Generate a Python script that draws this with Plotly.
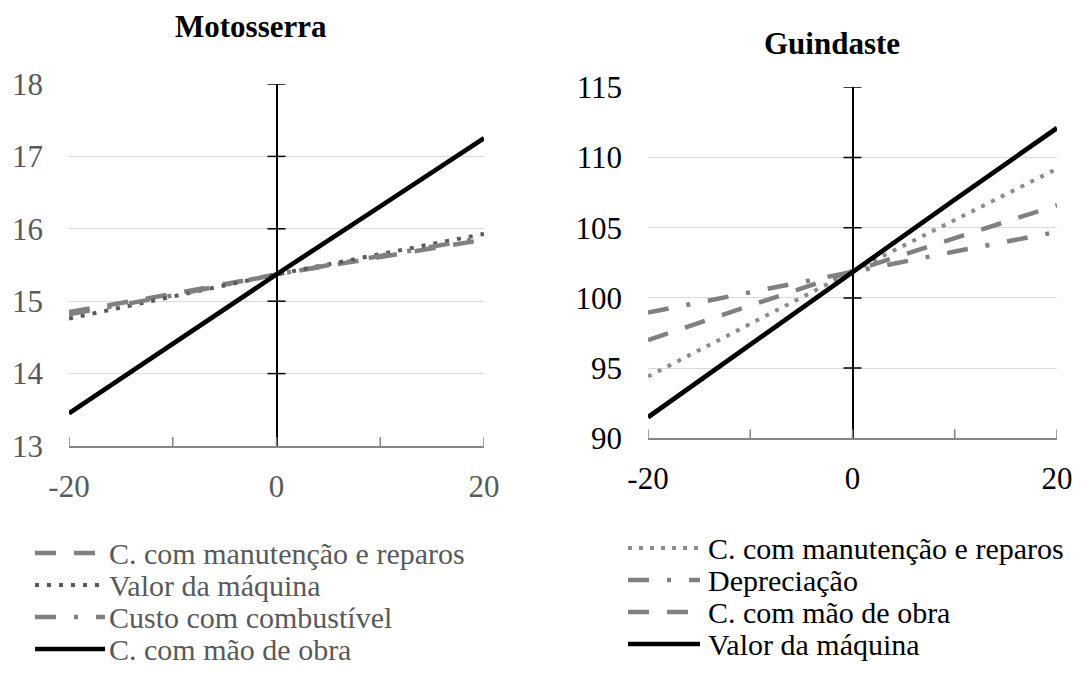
import plotly.graph_objects as go

# ---------------- data ----------------
x_vals = [-20, -10, 0, 10, 20]

# Motosserra
moto_title = "Motosserra"
moto_names = ["C. com manutenção e reparos", "Valor da máquina",
              "Custo com combustível", "C. com mão de obra"]
moto_manut = [14.85, 15.10, 15.37, 15.61, 15.85]
moto_valor = [14.76, 15.06, 15.37, 15.65, 15.93]
moto_comb = [14.82, 15.08, 15.37, 15.63, 15.88]
moto_mao = [13.45, 14.41, 15.37, 16.31, 17.25]
moto_yticks = [13, 14, 15, 16, 17, 18]

# Guindaste
guin_title = "Guindaste"
guin_names = ["C. com manutenção e reparos", "Depreciação",
              "C. com mão de obra", "Valor da máquina"]
guin_manut = [94.4, 98.15, 101.9, 105.55, 109.2]
guin_depr = [98.95, 100.4, 101.9, 103.3, 104.7]
guin_mao = [97.0, 99.45, 101.9, 104.25, 106.6]
guin_valor = [91.5, 96.7, 101.9, 107.0, 112.1]
guin_yticks = [90, 95, 100, 105, 110, 115]

x_ticklabels = [-20, 0, 20]
x_ticktext = ["-20", "0", "20"]
x_tickmarks = [-20, -10, 0, 10, 20]

# ---------------- layout helpers ----------------
W, H = 1086, 680
FONT = "Liberation Serif"


def px(x):
    return x / W


def py(y):
    return 1 - y / H


DARK = "#595959"
GRAY = "#808080"
LGRAY = "#8c8c8c"

moto_styles = [
    dict(color=GRAY, width=4.5, dash="21px,18px"),
    dict(color=DARK, width=4, dash="4px,8px"),
    dict(color=GRAY, width=4.5, dash="21px,18px,4px,18px"),
    dict(color="black", width=4.7, dash="solid"),
]
guin_styles = [
    dict(color=LGRAY, width=4, dash="4px,7px"),
    dict(color=GRAY, width=4.5, dash="21px,18px,4px,18px"),
    dict(color=GRAY, width=4.5, dash="21px,18px"),
    dict(color="black", width=4.7, dash="solid"),
]

fig = go.Figure()

for name, ys, st in zip(moto_names, [moto_manut, moto_valor, moto_comb, moto_mao], moto_styles):
    fig.add_trace(go.Scatter(x=x_vals, y=ys, mode="lines", name=name, line=st,
                             showlegend=False, xaxis="x", yaxis="y"))
for name, ys, st in zip(guin_names, [guin_manut, guin_depr, guin_mao, guin_valor], guin_styles):
    fig.add_trace(go.Scatter(x=x_vals, y=ys, mode="lines", name=name, line=st,
                             showlegend=False, xaxis="x2", yaxis="y2"))

# plot area pixel boxes
L_box = dict(x0=69, x1=484, y0=84, y1=446)
R_box = dict(x0=648, x1=1057, y0=87.3, y1=438.3)


def xaxis_cfg(box, color, anchor):
    return dict(domain=[px(box["x0"]), px(box["x1"])], range=[-20, 20], anchor=anchor,
                automargin=False,
                showgrid=False, zeroline=True, zerolinecolor="black", zerolinewidth=1.5,
                showline=True, linecolor="#868686", linewidth=1.5,
                ticks="", tickvals=x_ticklabels, ticktext=x_ticktext, ticklabelstandoff=12,
                tickfont=dict(family=FONT, size=31, color=color), fixedrange=True)


def yaxis_cfg(box, rng, ticks, color, anchor):
    return dict(domain=[py(box["y1"]), py(box["y0"])], range=rng, anchor=anchor,
                automargin=False,
                tickvals=ticks, showgrid=True, gridcolor="#d9d9d9", gridwidth=1.3,
                zeroline=False, showline=False, ticks="", ticklabelstandoff=25,
                tickfont=dict(family=FONT, size=31, color=color), fixedrange=True)


fig.update_layout(
    width=W, height=H, margin=dict(l=0, r=0, t=0, b=0, autoexpand=False),
    paper_bgcolor="white", plot_bgcolor="white",
    showlegend=False,
    xaxis=xaxis_cfg(L_box, DARK, "y"),
    yaxis=yaxis_cfg(L_box, [moto_yticks[0], moto_yticks[-1]], moto_yticks, DARK, "x"),
    xaxis2=xaxis_cfg(R_box, "black", "y2"),
    yaxis2=yaxis_cfg(R_box, [guin_yticks[0], guin_yticks[-1]], guin_yticks, "black", "x2"),
)

shapes = []
# tick crosses on the vertical axis at x=0 and on the horizontal axis
for xr, yr, ticks in [("x", "y", moto_yticks), ("x2", "y2", guin_yticks)]:
    for v in ticks[1:]:
        shapes.append(dict(type="line", xref=xr, yref=yr, xsizemode="pixel", xanchor=0,
                           x0=-9, x1=9, y0=v, y1=v, line=dict(color="black", width=1.5)))
    for v in x_tickmarks:
        shapes.append(dict(type="line", xref=xr, yref=yr, ysizemode="pixel", yanchor=ticks[0],
                           y0=-9, y1=9, x0=v, x1=v, line=dict(color="#868686", width=1.5)))

annotations = []
# titles
annotations.append(dict(text="<b>" + moto_title + "</b>", x=px(251), y=py(27), xref="paper",
                        yref="paper", showarrow=False, xanchor="center", yanchor="middle",
                        font=dict(family=FONT, size=31, color="black")))
annotations.append(dict(text="<b>" + guin_title + "</b>", x=px(832), y=py(44), xref="paper",
                        yref="paper", showarrow=False, xanchor="center", yanchor="middle",
                        font=dict(family=FONT, size=31, color="black")))

# manual legends
legends = [
    (moto_names, moto_styles, 35, 105, 107, [553, 585, 617, 649], DARK),
    (guin_names, guin_styles, 628, 700, 706, [548, 580, 612, 644], "black"),
]
for names, styles, sx0, sx1, tx, rows, tcolor in legends:
    for name, st, ry in zip(names, styles, rows):
        shapes.append(dict(type="line", xref="paper", yref="paper", x0=px(sx0), x1=px(sx1),
                           y0=py(ry), y1=py(ry), line=st))
        annotations.append(dict(text=name, x=px(tx), y=py(ry), xref="paper", yref="paper",
                                showarrow=False, xanchor="left", yanchor="middle",
                                font=dict(family=FONT, size=30, color=tcolor)))

fig.update_layout(shapes=shapes, annotations=annotations)

fig.write_html("out.html")
